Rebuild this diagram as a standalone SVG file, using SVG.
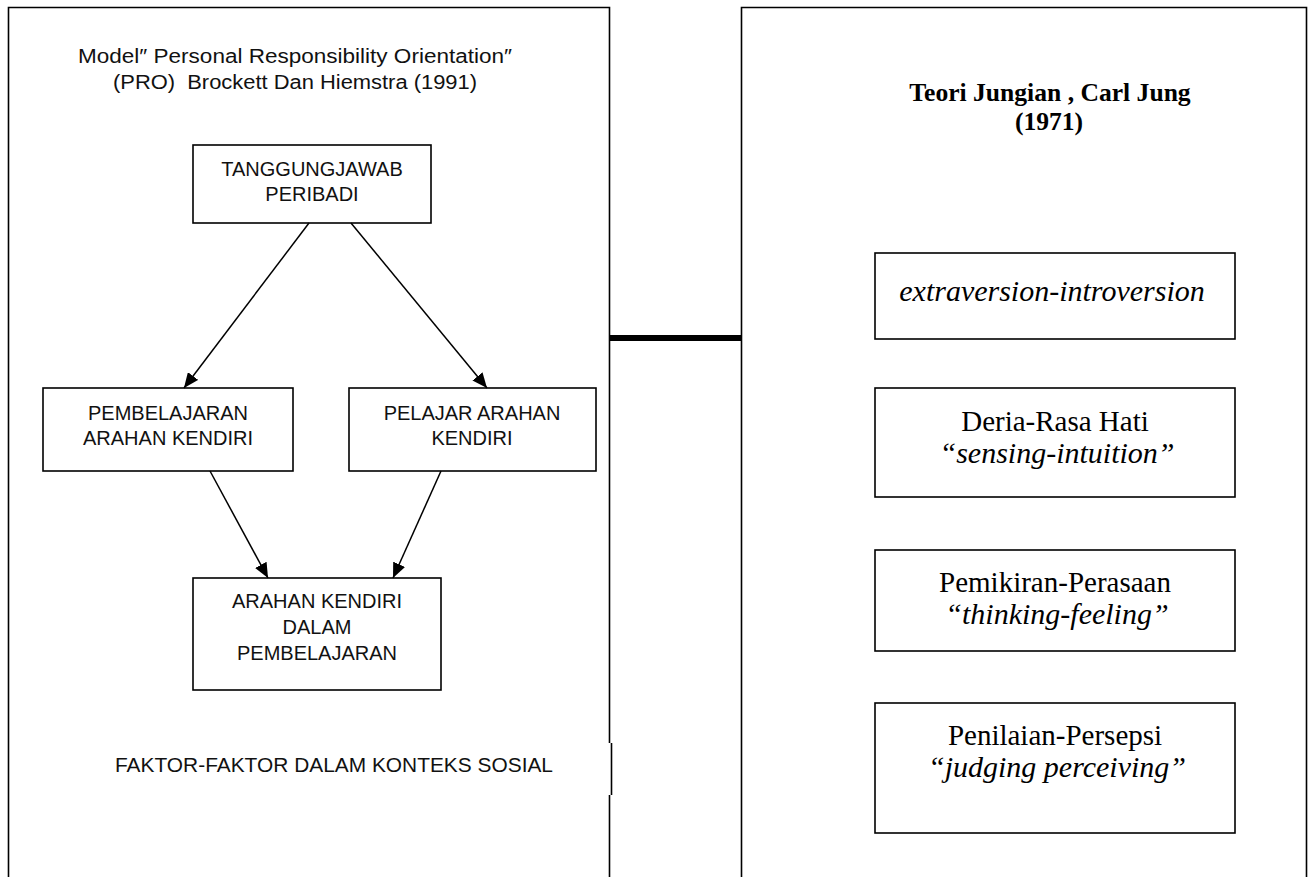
<svg xmlns="http://www.w3.org/2000/svg" width="1314" height="877" viewBox="0 0 1314 877">
<style>
.panel{fill:none;stroke:#000;stroke-width:1.6}
.box{fill:#fff;stroke:#000;stroke-width:1.6}
.sans{font-family:"Liberation Sans",Arial,sans-serif;font-size:20px;fill:#111;text-anchor:middle}
.serif{font-family:"Liberation Serif","Times New Roman",serif;font-size:29px;fill:#000;text-anchor:middle}
.it{font-style:italic;font-size:30px}
.bold{font-weight:bold;font-size:25.6px}
.arrow{stroke:#000;stroke-width:1.5;fill:none;marker-end:url(#ah)}
</style>
<defs>
<marker id="ah" viewBox="0 0 15 13" refX="15" refY="6.5" markerWidth="15" markerHeight="13" markerUnits="userSpaceOnUse" orient="auto">
<path d="M0,0 L15,6.5 L0,13 Z" fill="#000"/>
</marker>
</defs>
<rect width="1314" height="877" fill="#fff"/>
<g id="left-panel">
<path class="panel" d="M8.5,890 V7.5 H609.5 V743 M611.5,743 V795 M609.5,795 V890"/>
<text class="sans" x="295" y="63" textLength="434" lengthAdjust="spacingAndGlyphs">Model″ Personal Responsibility Orientation″</text>
<text class="sans" x="295" y="89" xml:space="preserve" textLength="364" lengthAdjust="spacingAndGlyphs">(PRO)  Brockett Dan Hiemstra (1991)</text>
<text class="sans" x="334" y="772" textLength="438" lengthAdjust="spacingAndGlyphs">FAKTOR-FAKTOR DALAM KONTEKS SOSIAL</text>
</g>
<g id="right-panel">
<path class="panel" d="M741.5,890 V7.5 H1306.5 V890"/>
<text class="serif bold" x="1050" y="101">Teori Jungian , Carl Jung</text>
<text class="serif bold" x="1049" y="130">(1971)</text>
</g>
<g id="node-tanggungjawab">
<rect class="box" x="193" y="145" width="238" height="78"/>
<text class="sans" x="312" y="176">TANGGUNGJAWAB</text>
<text class="sans" x="312" y="201">PERIBADI</text>
</g>
<g id="node-pembelajaran">
<rect class="box" x="43" y="388" width="250" height="83"/>
<text class="sans" x="168" y="420">PEMBELAJARAN</text>
<text class="sans" x="168" y="445">ARAHAN KENDIRI</text>
</g>
<g id="node-pelajar">
<rect class="box" x="349" y="388" width="247" height="83"/>
<text class="sans" x="472" y="420">PELAJAR ARAHAN</text>
<text class="sans" x="472" y="445">KENDIRI</text>
</g>
<g id="node-arahan">
<rect class="box" x="193" y="578" width="248" height="112"/>
<text class="sans" x="317" y="608">ARAHAN KENDIRI</text>
<text class="sans" x="317" y="634">DALAM</text>
<text class="sans" x="317" y="660">PEMBELAJARAN</text>
</g>
<g id="node-extraversion">
<rect class="box" x="875" y="253" width="360" height="86"/>
<text class="serif it" x="1052" y="301">extraversion-introversion</text>
</g>
<g id="node-deria">
<rect class="box" x="875" y="388" width="360" height="109"/>
<text class="serif" x="1055" y="431">Deria-Rasa Hati</text>
<text class="serif it" x="1057" y="463">“sensing-intuition”</text>
</g>
<g id="node-pemikiran">
<rect class="box" x="875" y="550" width="360" height="101"/>
<text class="serif" x="1055" y="592">Pemikiran-Perasaan</text>
<text class="serif it" x="1057" y="624">“thinking-feeling”</text>
</g>
<g id="node-penilaian">
<rect class="box" x="875" y="703" width="360" height="130"/>
<text class="serif" x="1055" y="745">Penilaian-Persepsi</text>
<text class="serif it" x="1057" y="777">“judging perceiving”</text>
</g>
<g id="connectors">
<line class="arrow" x1="309" y1="223" x2="184" y2="388"/>
<line class="arrow" x1="351" y1="223" x2="487" y2="388"/>
<line class="arrow" x1="210" y1="471" x2="268" y2="578"/>
<line class="arrow" x1="441" y1="471" x2="393" y2="578"/>
<line x1="609" y1="338" x2="741" y2="338" stroke="#000" stroke-width="6"/>
</g>
</svg>
